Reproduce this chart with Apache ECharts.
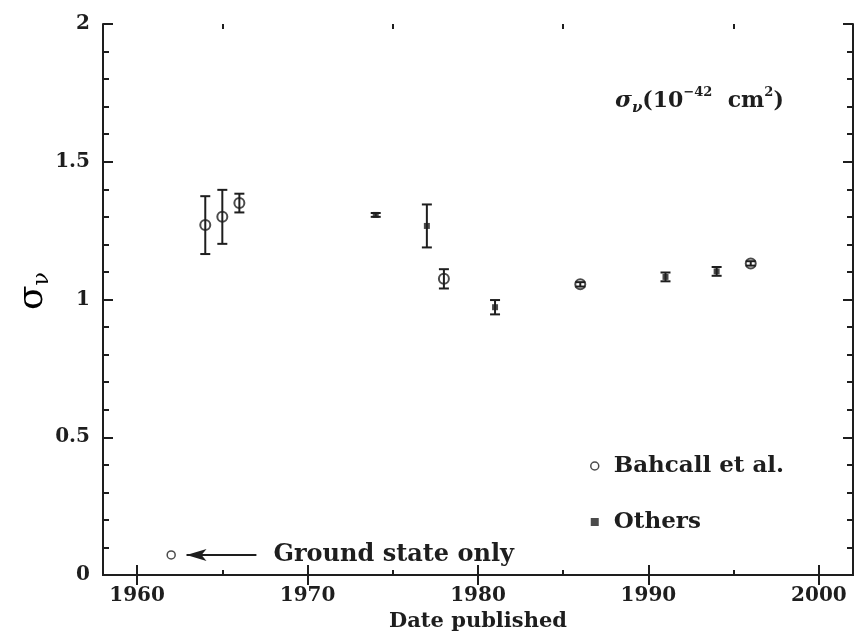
<!DOCTYPE html>
<html><head><meta charset="utf-8">
<script src="https://cdn.jsdelivr.net/npm/echarts@6/dist/echarts.min.js"></script>
<style>html,body{margin:0;padding:0;background:#fff}#c{width:856px;height:638px}</style>
</head><body><div id="c"></div>
<script>
// ---- data ----
const bahcallYears  = [1964, 1965, 1966, 1978, 1986, 1996];
const bahcallValues = [1.27, 1.30, 1.35, 1.075, 1.055, 1.131];
const bahcallErrors = [0.105, 0.098, 0.034, 0.035, 0.008, 0.008];

const otherYears  = [1974, 1977, 1981, 1991, 1994];
const otherValues = [1.307, 1.267, 0.972, 1.082, 1.102];
const otherErrors = [0.007, 0.078, 0.026, 0.016, 0.016];

const groundStateYears  = [1962];
const groundStateValues = [0.073];

const xTickLabels = [1960, 1970, 1980, 1990, 2000];
const xMinorTicks = [1965, 1975, 1985, 1995];
const yTickLabels = [0, 0.5, 1, 1.5, 2];

const arrowFrom = [1967, 0.073];
const arrowTo   = [1962.9, 0.073];
const annotationAt = [1968, 0.073];
const annotationText = 'Ground state only';

// ---- build ----
const INK = '#1e1e1e';
const FONT = '"DejaVu Serif", serif';
const pts = (xs, ys) => xs.map((x, i) => [x, ys[i]]);
const bars = (xs, ys, es) => xs.map((x, i) => [x, ys[i] - es[i], ys[i] + es[i]]);

function errorBar(params, api) {
  const x = api.value(0);
  const lo = api.coord([x, api.value(1)]);
  const hi = api.coord([x, api.value(2)]);
  const w = 5;
  const st = { stroke: INK, lineWidth: 2 };
  return { type: 'group', children: [
    { type: 'line', shape: { x1: lo[0], y1: lo[1], x2: hi[0], y2: hi[1] }, style: st },
    { type: 'line', shape: { x1: hi[0] - w, y1: hi[1], x2: hi[0] + w, y2: hi[1] }, style: st },
    { type: 'line', shape: { x1: lo[0] - w, y1: lo[1], x2: lo[0] + w, y2: lo[1] }, style: st }
  ]};
}

const baseX = { type: 'value', min: 1958, max: 2002, gridIndex: 0, splitLine: { show: false } };
const baseY = { type: 'value', min: 0, max: 2, interval: 0.5, splitLine: { show: false } };
const line = { show: true, lineStyle: { color: INK, width: 2 } };
const noLine = { show: false };

const chart = echarts.init(document.getElementById('c'), null, { renderer: 'canvas' });
chart.setOption({
  backgroundColor: '#fff',
  animation: false,
  grid: { left: 103, right: 3, top: 24, bottom: 63, containLabel: false, outerBoundsMode: 'none' },
  title: {
    text: '{s|σ}{sub|ν}{n|(10}{sup|−42}{n|  cm}{sup|2}{n|)}',
    left: 615, top: 86, padding: 0,
    textStyle: { fontWeight: 'bold', rich: {
      s:   { fontFamily: FONT, fontStyle: 'italic', fontWeight: 'bold', fontSize: 23, color: INK, lineHeight: 30 },
      sub: { fontFamily: FONT, fontStyle: 'italic', fontWeight: 'bold', fontSize: 15, color: INK, lineHeight: 14, verticalAlign: 'bottom' },
      n:   { fontFamily: FONT, fontWeight: 'bold', fontSize: 22, color: INK, lineHeight: 30 },
      sup: { fontFamily: FONT, fontWeight: 'bold', fontSize: 13, color: INK, lineHeight: 16, verticalAlign: 'top' }
    }}
  },
  legend: {
    orient: 'vertical', left: 590, top: 453, padding: 0,
    itemWidth: 8, itemHeight: 8, itemGap: 30,
    textStyle: { fontFamily: FONT, fontSize: 23, fontWeight: 'bold', color: INK, lineHeight: 26, padding: [0, 0, 0, 10] },
    data: [
      { name: 'Bahcall et al.', icon: 'circle', itemStyle: { color: 'rgba(0,0,0,0)', borderColor: INK, borderWidth: 1.5 } },
      { name: 'Others', icon: 'rect', itemStyle: { color: INK, borderWidth: 0 } }
    ]
  },
  xAxis: [
    Object.assign({}, baseX, {
      position: 'bottom', axisLine: line,
      axisTick: { show: true, inside: true, length: 10, customValues: xTickLabels, lineStyle: { color: INK, width: 2 } },
      axisLabel: { customValues: xTickLabels, fontFamily: FONT, fontSize: 20, fontWeight: 'bold', color: INK, margin: 11,
        formatter: v => String(v) },
      name: 'Date published', nameLocation: 'middle', nameGap: 35,
      nameTextStyle: { fontFamily: FONT, fontSize: 21, fontWeight: 'bold', color: INK }
    }),
    Object.assign({}, baseX, {
      position: 'top', axisLine: line,
      axisTick: { show: true, inside: true, length: 10, customValues: xTickLabels, lineStyle: { color: INK, width: 2 } },
      axisLabel: { show: false }
    }),
    Object.assign({}, baseX, {
      position: 'bottom', axisLine: noLine,
      axisTick: { show: true, inside: true, length: 5, customValues: xMinorTicks, lineStyle: { color: INK, width: 2 } },
      axisLabel: { show: false }
    }),
    Object.assign({}, baseX, {
      position: 'top', axisLine: noLine,
      axisTick: { show: true, inside: true, length: 5, customValues: xMinorTicks, lineStyle: { color: INK, width: 2 } },
      axisLabel: { show: false }
    })
  ],
  yAxis: [
    Object.assign({}, baseY, {
      position: 'left', axisLine: line,
      axisTick: { show: true, inside: true, length: 10, lineStyle: { color: INK, width: 2 } },
      minorTick: { show: true, splitNumber: 5, length: 6, lineStyle: { color: INK, width: 2 } },
      axisLabel: { fontFamily: FONT, fontSize: 20, fontWeight: 'bold', color: INK, margin: 13,
        formatter: v => String(v) }
    }),
    Object.assign({}, baseY, {
      position: 'right', axisLine: line,
      axisTick: { show: true, inside: true, length: 10, lineStyle: { color: INK, width: 2 } },
      minorTick: { show: true, splitNumber: 5, length: 6, lineStyle: { color: INK, width: 2 } },
      axisLabel: { show: false }
    })
  ],
  graphic: [{
    type: 'text', x: 33, y: 291, rotation: Math.PI / 2,
    style: {
      text: '{s|σ}{sub|ν}', align: 'center', verticalAlign: 'middle',
      rich: {
        s:   { fontFamily: FONT, fontSize: 36, color: INK, lineHeight: 40 },
        sub: { fontFamily: FONT, fontSize: 22, color: INK, lineHeight: 20, verticalAlign: 'bottom' }
      }
    }
  }],
  series: [
    { type: 'custom', name: 'err-b', renderItem: errorBar, data: bars(bahcallYears, bahcallValues, bahcallErrors),
      encode: { x: 0, y: [1, 2] }, z: 2, silent: true },
    { type: 'custom', name: 'err-o', renderItem: errorBar, data: bars(otherYears, otherValues, otherErrors),
      encode: { x: 0, y: [1, 2] }, z: 2, silent: true },
    { type: 'scatter', name: 'Bahcall et al.', data: pts(bahcallYears, bahcallValues), symbol: 'circle', symbolSize: 10,
      itemStyle: { color: 'rgba(0,0,0,0)', borderColor: INK, borderWidth: 2 }, z: 3 },
    { type: 'scatter', name: 'Others', data: pts(otherYears, otherValues), symbol: 'rect', symbolSize: 6,
      itemStyle: { color: INK }, z: 3 },
    { type: 'scatter', name: 'ground', data: pts(groundStateYears, groundStateValues), symbol: 'circle', symbolSize: 8,
      itemStyle: { color: 'rgba(0,0,0,0)', borderColor: INK, borderWidth: 1.5 }, z: 3,
      markLine: {
        silent: true, symbol: ['none', 'arrow'],
        lineStyle: { color: INK, width: 2, type: 'solid' }, label: { show: false },
        data: [[{ coord: arrowFrom, symbol: 'none' }, { coord: arrowTo, symbol: 'arrow', symbolSize: [9, 20] }]]
      },
      markPoint: {
        silent: true, symbol: 'circle', symbolSize: 0,
        label: { show: true, position: 'right', distance: 0, formatter: annotationText,
          fontFamily: FONT, fontSize: 24, fontWeight: 'bold', color: INK },
        data: [{ coord: annotationAt }]
      }
    }
  ]
});
</script>
</body></html>
